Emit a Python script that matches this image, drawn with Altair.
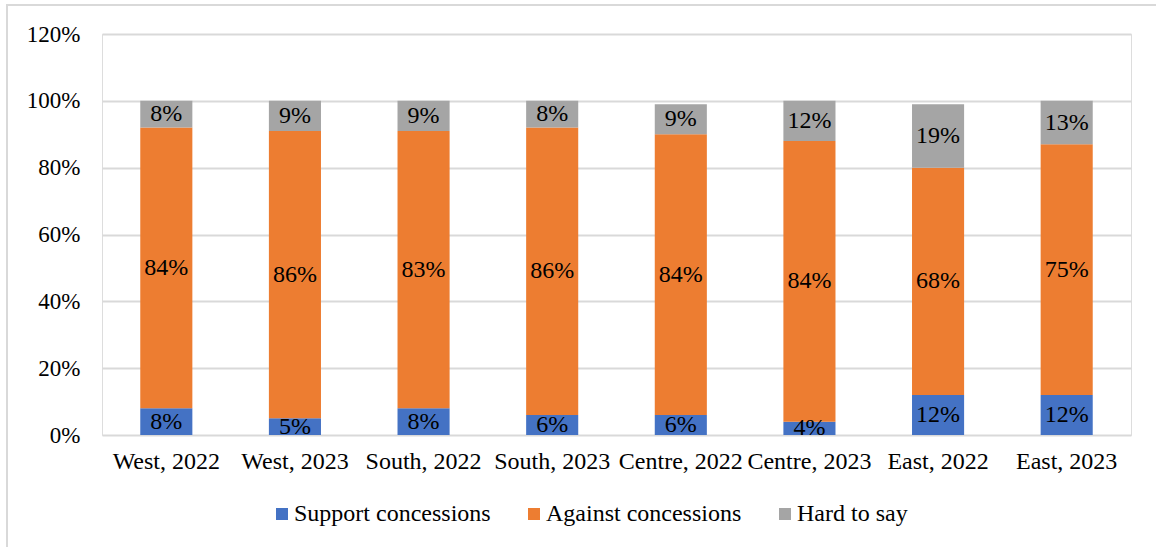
import altair as alt
import pandas as pd

categories = ["West, 2022", "West, 2023", "South, 2022", "South, 2023",
              "Centre, 2022", "Centre, 2023", "East, 2022", "East, 2023"]
series = ["Support concessions", "Against concessions", "Hard to say"]
support = [8, 5, 8, 6, 6, 4, 12, 12]
against = [84, 86, 83, 86, 84, 84, 68, 75]
hard = [8, 9, 9, 8, 9, 12, 19, 13]
colors = ["#4472C4", "#ED7D31", "#A5A5A5"]
y_ticks = [0, 20, 40, 60, 80, 100, 120]

rows = []
for i, c in enumerate(categories):
    vals = [support[i], against[i], hard[i]]
    base = 0
    for k, s in enumerate(series):
        v = vals[k]
        rows.append({"cat": c, "series": s, "order": k, "v0": base / 100,
                     "v1": (base + v) / 100, "mid": (base + v / 2) / 100,
                     "label": f"{v}%"})
        base += v
df = pd.DataFrame(rows)

FONT = "Liberation Serif"
FS = 24
W, H = 1029, 401

x_enc = alt.X("cat:N", sort=categories, title=None,
              scale=alt.Scale(paddingInner=0.595, paddingOuter=0.2975),
              axis=alt.Axis(labelAngle=0, labelFontSize=FS, labelFont=FONT,
                            labelColor="#000000", labelPadding=14, ticks=False,
                            domain=False, grid=False, labelLimit=0))

bars = alt.Chart(df).mark_bar(stroke=None).encode(
    x=x_enc,
    y=alt.Y("v0:Q", title=None,
            scale=alt.Scale(domain=[0, 1.2], nice=False),
            axis=alt.Axis(values=[t / 100 for t in y_ticks], format=".0%",
                          labelFontSize=23, labelFont=FONT, labelColor="#000000",
                          labelPadding=22, ticks=False, domain=False,
                          grid=True, gridColor="#d9d9d9", gridWidth=2)),
    y2="v1:Q",
    color=alt.Color("series:N", sort=series,
                    scale=alt.Scale(domain=series, range=colors),
                    legend=alt.Legend(title=None, orient="none", direction="horizontal",
                                      legendX=168, legendY=468,
                                      symbolType="square", symbolSize=144,
                                      symbolStrokeWidth=0, symbolOpacity=1,
                                      labelFont=FONT, labelFontSize=FS,
                                      labelColor="#000000", labelOffset=0,
                                      labelLimit=0, columnPadding=31)),
    order=alt.Order("order:Q"),
)

texts = alt.Chart(df).mark_text(font=FONT, fontSize=FS, color="#000000",
                                baseline="middle", align="center").encode(
    x=alt.X("cat:N", sort=categories),
    y=alt.Y("mid:Q"),
    text="label:N",
)

border = alt.Chart(pd.DataFrame({"a": [0]})).mark_rect(
    fill=None, stroke="#d9d9d9", strokeWidth=2).encode(
    x=alt.value(-95), x2=alt.value(1100),
    y=alt.value(-29), y2=alt.value(560),
)

chart = alt.layer(border, bars, texts).properties(
    width=W, height=H,
    autosize=alt.AutoSizeParams(type="none"),
    padding={"left": 102, "top": 34, "right": 25, "bottom": 112},
).configure_view(stroke=None).configure(background="#ffffff")

chart.save("out.html", embed_options={"renderer": "svg", "actions": False})
